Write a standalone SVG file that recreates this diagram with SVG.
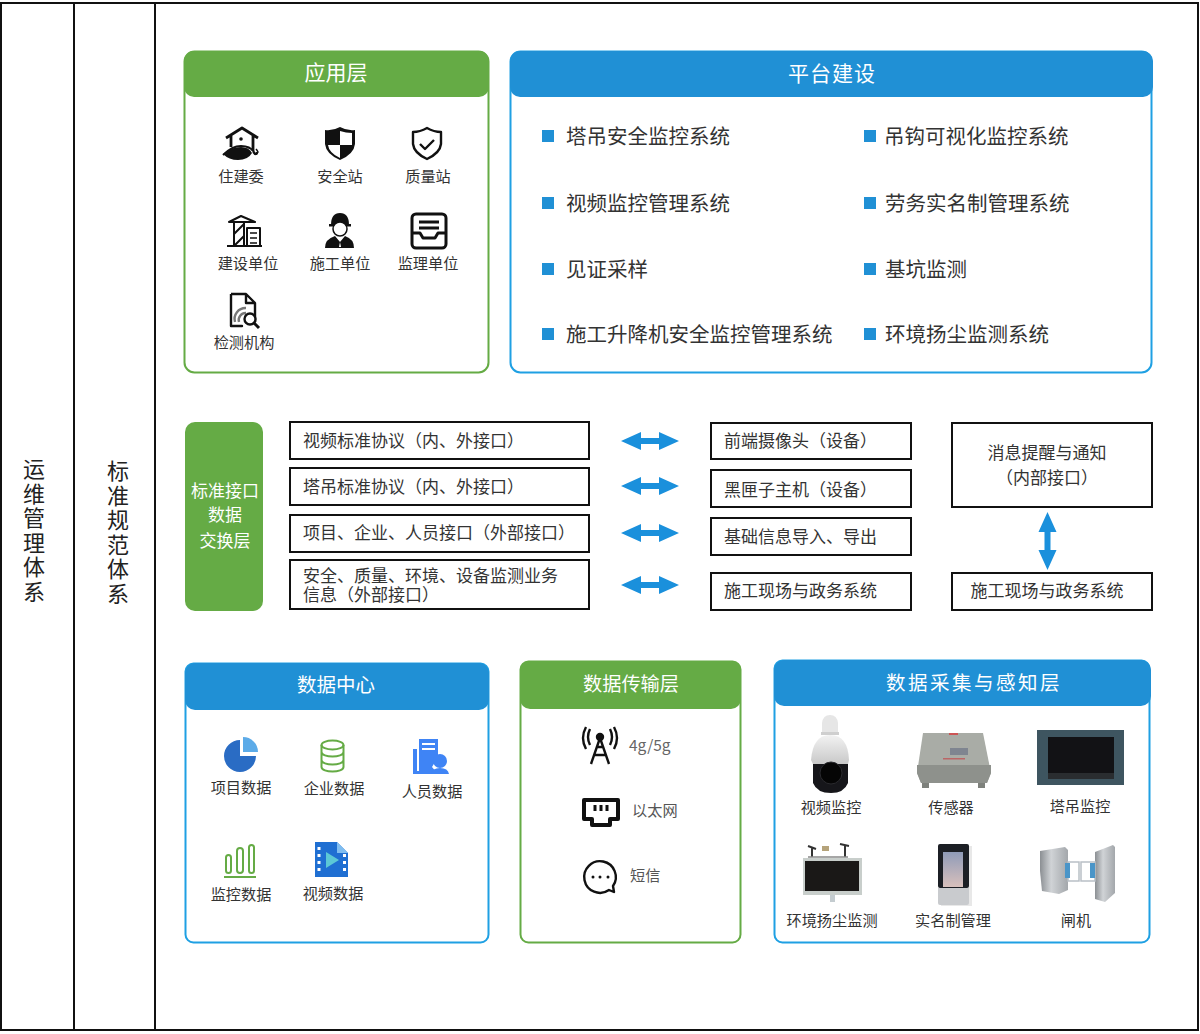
<svg xmlns="http://www.w3.org/2000/svg" width="1200" height="1034" viewBox="0 0 1200 1034">
<style>
text{font-family:"Noto Sans CJK SC","Noto Sans",sans-serif;fill:#333}
.m{text-anchor:middle}
.s{font-size:15.2px}
.b{font-size:17px}
.l{font-size:20.500px}
.h{font-size:21px;fill:#fff;text-anchor:middle}
.v{font-size:22px;fill:#222;writing-mode:vertical-rl;text-orientation:upright;letter-spacing:2.500px}
.box{fill:#fff;stroke:#111;stroke-width:2}
.pg{fill:#fff;stroke:#65ab45;stroke-width:2}
.pb{fill:#fff;stroke:#1fa0e3;stroke-width:2}
.hg{fill:#65ab45}
.hb{fill:#2090d5}
.sq{fill:#2090d5}
.ln{fill:none;stroke:#111;stroke-width:2.4}
.lg{fill:none;stroke:#65ab45;stroke-width:2}
</style>
<defs>
<path id="ah" d="M0 0l20-9v6h18v-6l20 9-20 9v-6H20v6z" fill="#1a90dc"/>
<linearGradient id="dome" x1="0" y1="0" x2="0" y2="1"><stop offset="0" stop-color="#f2f2f2"/><stop offset="1" stop-color="#c9c9c9"/></linearGradient>
<linearGradient id="face" x1="0" y1="0" x2="0" y2="1"><stop offset="0" stop-color="#8f9bb8"/><stop offset="1" stop-color="#d8c0bc"/></linearGradient>
<linearGradient id="gate" x1="0" y1="0" x2="1" y2="0"><stop offset="0" stop-color="#8b8f93"/><stop offset="0.4" stop-color="#d0d3d6"/><stop offset="1" stop-color="#a3a7ab"/></linearGradient>
</defs>
<rect width="1200" height="1034" fill="#fff"/>
<g id="frame" fill="none" stroke="#111" stroke-width="2">
<rect x="1" y="3" width="1197" height="1027"/>
<path d="M74 3V1030M155 3V1030"/>
</g>
<g id="ops"><text class="v" x="34" y="458">运维管理体系</text></g>
<g id="std"><text class="v" x="118" y="460">标准规范体系</text></g>

<g id="app-layer">
<rect class="pg" x="184.500" y="51.500" width="304" height="321" rx="10"/>
<rect class="hg" x="184" y="51" width="305" height="46" rx="10"/>
<text class="h" x="336" y="80">应用层</text>
<g class="ln" stroke-linejoin="round">
<path d="M226 138l16-10 16 10M231 135v12M253 135v16" stroke-width="2.800"/>
<path d="M223 155q9-9 18-9t13 6q3 4 3 0" stroke-width="2"/>
<path d="M223 154q8-7 18-7 8 0 11 6-4 7-14 7-9 0-15-6z" fill="#111" stroke="none"/>
<path d="M253 152q3 5 5 0-1-2-2-3" stroke-width="1.500"/>
<path d="M340 127q-7 4-15 3v14q1 10 15 16 14-6 15-16v-14q-8 1-15-3z" fill="#111" stroke="none"/>
<path d="M340 131v14h-12q1 8 12 13zM340 145h12v-12q-6 0-12-2z" fill="#fff" stroke="none"/>
<path d="M427 128q-7 4-14 4v12q1 9 14 15 13-6 14-15v-12q-7 0-14-4z"/>
<path d="M420 144l5 5 9-9"/>
<path d="M227 246h35M234 246v-23M244 246v-23M229 222l12-6 14 6zM234 234l10-10M244 236l-10 10" stroke-width="2"/>
<rect x="247" y="228" width="13" height="18" fill="#fff" stroke-width="2"/>
<path d="M250 233h7M250 238h7M250 243h7" stroke-width="1.500"/>
<path d="M412 218a4 4 0 0 1 4-4h26a4 4 0 0 1 4 4v26a4 4 0 0 1-4 4h-26a4 4 0 0 1-4-4zM412 233h8l3 5h12l3-5h8M419 222h20M419 228h20" stroke-width="3"/>
<path d="M231 294h15l9 9v19M242 326h-11zM231 294v32M246 294v9h9"/>
<path d="M235 322a11 11 0 0 1 11-14M239 322a7 7 0 0 1 7-9" stroke="#777"/>
<circle cx="250" cy="319" r="5.500" fill="#fff"/>
<path d="M254 323l5 5" stroke-width="3"/>
</g>
<circle cx="241" cy="139" r="1.800" fill="#111"/>
<path d="M331 225q0-12 9-12t9 12z" fill="#111"/>
<path d="M329 224h22v2.500h-22z" fill="#111"/>
<circle cx="340" cy="229" r="7" fill="#fff" stroke="#111" stroke-width="1.500"/>
<path d="M325 248q0-9 10-12l5 6 5-6q9 3 9 12z" fill="#111"/>
<path d="M340 242l-1 5h2z" fill="#fff"/>
<text class="s m" x="241" y="182">住建委</text>
<text class="s m" x="340" y="182">安全站</text>
<text class="s m" x="428" y="182">质量站</text>
<text class="s m" x="248" y="269">建设单位</text>
<text class="s m" x="340" y="269">施工单位</text>
<text class="s m" x="428" y="269">监理单位</text>
<text class="s m" x="244" y="348">检测机构</text>
</g>

<g id="platform">
<rect class="pb" x="510.500" y="51.500" width="641" height="321" rx="10"/>
<rect class="hb" x="510" y="51" width="643" height="46" rx="10"/>
<text class="h" x="832" y="81" style="letter-spacing:1px">平台建设</text>
<rect class="sq" x="542" y="130" width="12" height="12"/><text class="l" x="566" y="144">塔吊安全监控系统</text>
<rect class="sq" x="542" y="197" width="12" height="12"/><text class="l" x="566" y="211">视频监控管理系统</text>
<rect class="sq" x="542" y="263" width="12" height="12"/><text class="l" x="566" y="277">见证采样</text>
<rect class="sq" x="542" y="328" width="12" height="12"/><text class="l" x="566" y="342">施工升降机安全监控管理系统</text>
<rect class="sq" x="864" y="130" width="12" height="12"/><text class="l" x="884" y="144">吊钩可视化监控系统</text>
<rect class="sq" x="864" y="197" width="12" height="12"/><text class="l" x="885" y="211">劳务实名制管理系统</text>
<rect class="sq" x="864" y="263" width="12" height="12"/><text class="l" x="885" y="277">基坑监测</text>
<rect class="sq" x="864" y="328" width="12" height="12"/><text class="l" x="885" y="342">环境扬尘监测系统</text>
</g>

<g id="exchange">
<rect class="hg" x="185" y="422" width="78" height="189" rx="10"/>
<text class="b m" style="fill:#fff" x="225" y="497">标准接口</text>
<text class="b m" style="fill:#fff" x="225" y="521">数据</text>
<text class="b m" style="fill:#fff" x="225" y="547">交换层</text>
</g>
<g id="proto-1"><rect class="box" x="290" y="422" width="299" height="37"/><text class="b" x="303" y="447">视频标准协议（内、外接口）</text></g>
<g id="proto-2"><rect class="box" x="290" y="468" width="299" height="37"/><text class="b" x="303" y="493">塔吊标准协议（内、外接口）</text></g>
<g id="proto-3"><rect class="box" x="290" y="515" width="299" height="37"/><text class="b" x="303" y="539">项目、企业、人员接口（外部接口）</text></g>
<g id="proto-4"><rect class="box" x="290" y="560" width="299" height="49"/><text class="b"><tspan x="303" y="582">安全、质量、环境、设备监测业务</tspan><tspan x="303" y="601">信息（外部接口）</tspan></text></g>
<g id="dev-1"><rect class="box" x="711" y="423" width="200" height="36"/><text class="b" x="724" y="447">前端摄像头（设备）</text></g>
<g id="dev-2"><rect class="box" x="711" y="470" width="200" height="37"/><text class="b" x="724" y="496">黑匣子主机（设备）</text></g>
<g id="dev-3"><rect class="box" x="711" y="518" width="200" height="37"/><text class="b" x="724" y="543">基础信息导入、导出</text></g>
<g id="dev-4"><rect class="box" x="711" y="573" width="200" height="37"/><text class="b" x="724" y="597">施工现场与政务系统</text></g>
<g id="msg"><rect class="box" x="952" y="423" width="200" height="84"/><text class="b m" x="1047" y="459">消息提醒与通知</text><text class="b m" x="1047" y="484">（内部接口）</text></g>
<g id="gov"><rect class="box" x="952" y="573" width="200" height="37"/><text class="b m" x="1047" y="597">施工现场与政务系统</text></g>
<g id="connectors">
<use href="#ah" x="621" y="441"/>
<use href="#ah" x="621" y="486"/>
<use href="#ah" x="621" y="533"/>
<use href="#ah" x="621" y="585"/>
<use href="#ah" transform="translate(1047.500 512) rotate(90)"/>
</g>

<g id="data-center">
<rect class="pb" x="185.500" y="663.500" width="303" height="279" rx="8"/>
<rect class="hb" x="185" y="663" width="304" height="47" rx="10"/>
<text class="h" x="336" y="692" style="font-size:19.500px">数据中心</text>
<path d="M240 740v16h16a16 16 0 1 1-16-16z" fill="#2a6cc4"/>
<path d="M243 737a15 15 0 0 1 15 15h-15z" fill="#5cabe8"/>
<g class="lg"><ellipse cx="332.500" cy="745" rx="11" ry="4.500"/><path d="M321.500 745v22c0 6 22 6 22 0v-22M321.500 752c0 6 22 6 22 0M321.500 760c0 6 22 6 22 0"/></g>
<path d="M419 739h19v18l-6 10 6 7h-25v-25h4v22h2z" fill="#3f84f5"/>
<path d="M422 744h13M422 749h13" stroke="#fff" stroke-width="2"/>
<circle cx="440" cy="761" r="7" fill="#3f84f5"/>
<path d="M431 774q1-6 9-6t9 6z" fill="#3f84f5"/>
<g class="lg"><rect x="226" y="855" width="5" height="18" rx="2.500"/><rect x="237" y="848" width="6" height="25" rx="3"/><rect x="249" y="845" width="5" height="28" rx="2.500"/><path d="M224 877h32"/></g>
<path d="M315 842h22l11 11v24h-33z" fill="#1f6fd2"/>
<path d="M337 842l11 11h-11z" fill="#7fbdf0"/>
<path d="M326 852l13 8-13 8z" fill="#5cc8d6"/>
<g fill="#fff"><rect x="317.500" y="847" width="3" height="3"/><rect x="317.500" y="854" width="3" height="3"/><rect x="317.500" y="861" width="3" height="3"/><rect x="317.500" y="868" width="3" height="3"/><rect x="343" y="854" width="3" height="3"/><rect x="343" y="861" width="3" height="3"/><rect x="343" y="868" width="3" height="3"/></g>
<text class="s m" x="241" y="793">项目数据</text>
<text class="s m" x="334" y="794">企业数据</text>
<text class="s m" x="432" y="797">人员数据</text>
<text class="s m" x="241" y="900">监控数据</text>
<text class="s m" x="333" y="899">视频数据</text>
</g>

<g id="transport">
<rect class="pg" x="520.500" y="661.500" width="220" height="281" rx="8"/>
<rect class="hg" x="520" y="661" width="221" height="48" rx="10"/>
<text class="h" x="631" y="691" style="font-size:19.200px">数据传输层</text>
<g class="ln">
<path d="M600 738l-9 26M600 738l9 26M594 755h12M597 747h6"/>
<circle cx="600" cy="737" r="3" fill="#111"/>
<path d="M590 729q-4 8 0 16M610 729q4 8 0 16M586 727q-6 11 0 22M614 727q6 11 0 22"/>
<path d="M584 800h34v19h-8v6h-18v-6h-8z" stroke-width="4" stroke-linejoin="round"/>
<path d="M595 805v6M601 805v6M607 805v6" stroke-width="3"/>
<path d="M609 890A15.800 15.800 0 1 1 613 886L614 892z" stroke-linejoin="round"/>
</g>
<circle cx="593" cy="877" r="1.500" fill="#111"/><circle cx="600" cy="877" r="1.500" fill="#111"/><circle cx="608" cy="877" r="1.500" fill="#111"/>
<text class="b" x="629" y="751" style="fill:#666;font-size:15.500px">4g/5g</text>
<text class="s" x="632" y="816" style="fill:#555">以太网</text>
<text class="s" x="630" y="881" style="fill:#555">短信</text>
</g>

<g id="sensing">
<rect class="pb" x="774.500" y="660.500" width="375" height="282" rx="8"/>
<rect class="hb" x="774" y="660" width="377" height="46" rx="10"/>
<text class="h" x="974" y="690" style="font-size:19.500px;letter-spacing:2.500px">数据采集与感知层</text>
<path d="M822 735v-12q1-8 8-8 7 0 8 8v12z" fill="#e6e6e6"/>
<rect x="821" y="732" width="18" height="3" fill="#cfcfcf"/>
<path d="M813 761h35v22q-4 10-17 10-14 0-18-10z" fill="#16161a"/>
<path d="M811 760q2-25 19-25 18 0 19 25l-1 4h-35z" fill="url(#dome)"/>
<circle cx="831" cy="773" r="11" fill="#050505" stroke="#2a2a2e"/>
<path d="M923 733h60l8 40-4 10H921l-4-10z" fill="#a9aca6"/>
<path d="M917 765h74v8l-4 10H921l-4-10z" fill="#8e918c"/>
<path d="M922 783h7v5h-7zM978 783h7v5h-7z" fill="#7e817c"/>
<rect x="950" y="748" width="18" height="7" fill="#7f8590"/>
<rect x="949" y="733" width="9" height="2" fill="#c55"/><rect x="943" y="758" width="22" height="1.500" fill="#b66"/>
<rect x="1037" y="730" width="87" height="55" fill="#3e5560"/>
<rect x="1048" y="737" width="66" height="36" fill="#121215"/>
<rect x="1048" y="773" width="66" height="6" fill="#2a2d30"/>
<path d="M812 857v-9M845 857v-11M808 846l8 3M840 844l9 2" stroke="#333" stroke-width="2"/>
<path d="M808 857h40" stroke="#888" stroke-width="1.500"/>
<rect x="822" y="846" width="7" height="5" fill="#b5a37a"/>
<rect x="803" y="858" width="59" height="37" fill="#c8cecb"/>
<rect x="805" y="861" width="54" height="30" fill="#1a1817"/>
<rect x="830" y="895" width="5" height="7" fill="#c4ccd0"/>
<rect x="941" y="846" width="31" height="60" fill="#e8e8e8"/>
<rect x="938" y="844" width="31" height="44" rx="2" fill="#1c1f25"/>
<rect x="943" y="852" width="20" height="35" fill="url(#face)"/>
<path d="M938 888h31v15q0 2-2 2h-27q-2 0-2-2z" fill="#c9cbce"/>
<path d="M1040 851l25-4 3 3v40l-9 4-17-3-2-20z" fill="url(#gate)"/>
<path d="M1095 852l18-7 2 2v46l-10 9-10-3z" fill="url(#gate)"/>
<path d="M1068 862h11v19h-11zM1081 862h14v19h-14z" fill="none" stroke="#b9c0c6" stroke-width="1.500"/>
<rect x="1065" y="863" width="5" height="15" fill="#4a95c8"/><rect x="1090" y="863" width="5" height="15" fill="#4a95c8"/>
<text class="s m" x="831" y="813">视频监控</text>
<text class="s m" x="951" y="813">传感器</text>
<text class="s m" x="1080" y="812">塔吊监控</text>
<text class="s m" x="832" y="926">环境扬尘监测</text>
<text class="s m" x="953" y="926">实名制管理</text>
<text class="s m" x="1076" y="926">闸机</text>
</g>
</svg>
